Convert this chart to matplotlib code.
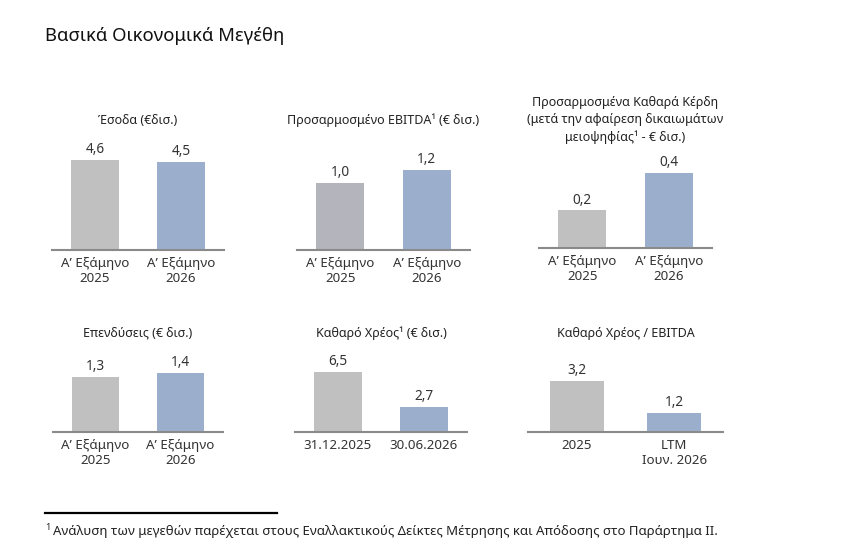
import matplotlib
matplotlib.use("Agg")
import matplotlib.pyplot as plt
from matplotlib.lines import Line2D

plt.rcParams['font.family'] = ['Noto Sans', 'DejaVu Sans']

W, H = 841, 550

main_title = "Βασικά Οικονομικά Μεγέθη"
panel_titles = [
    "Έσοδα (€δισ.)",
    "Προσαρμοσμένο EBITDA¹ (€ δισ.)",
    "Προσαρμοσμένα Καθαρά Κέρδη\n(μετά την αφαίρεση δικαιωμάτων\nμειοψηφίας¹ - € δισ.)",
    "Επενδύσεις (€ δισ.)",
    "Καθαρό Χρέος¹ (€ δισ.)",
    "Καθαρό Χρέος / EBITDA",
]
prev_values = [4.6, 1.0, 0.2, 1.3, 6.5, 3.2]
curr_values = [4.5, 1.2, 0.4, 1.4, 2.7, 1.2]
prev_labels = ["Α’ Εξάμηνο\n2025"] * 4 + ["31.12.2025", "2025"]
curr_labels = ["Α’ Εξάμηνο\n2026"] * 4 + ["30.06.2026", "LTM\nΙουν. 2026"]
footnote = "Ανάλυση των μεγεθών παρέχεται στους Εναλλακτικούς Δείκτες Μέτρησης και Απόδοσης στο Παράρτημα ΙΙ."

# panel layout in pixels: left, right, baseline y, pixels per unit, title y
panels = [
    (52, 224, 250, 19.6, 120),
    (297, 470, 250, 67, 120),
    (539, 712, 248, 188, 120),
    (53, 223, 432, 42.5, 333),
    (295, 467, 432, 9.2, 333),
    (528, 723, 432, 16, 333),
]
prev_colors = ["#c0c0c0", "#b3b4bc", "#c0c0c0", "#c0c0c0", "#c0c0c0", "#c0c0c0"]
blue = "#9bafcd"
ax_h = 115

fig = plt.figure(figsize=(W / 100, H / 100), dpi=100)

fig.text(45 / W, 1 - 36 / H, main_title, fontsize=13.3, color="#111111",
         ha="left", va="center")

for i, (left, right, base, scale, ty) in enumerate(panels):
    ax = fig.add_axes([left / W, 1 - base / H, (right - left) / W, ax_h / H])
    vals = [prev_values[i], curr_values[i]]
    bars = ax.bar([0, 1], vals, width=0.55, color=[prev_colors[i], blue])
    ax.set_xlim(-0.5, 1.5)
    ax.set_ylim(0, ax_h / scale)
    for b, v in zip(bars, vals):
        ax.annotate(f"{v:.1f}".replace(".", ","), (b.get_x() + b.get_width() / 2, v),
                    xytext=(0, 2), textcoords="offset points", ha="center",
                    va="bottom", fontsize=9.8, color="#333333")
    ax.set_xticks([0, 1])
    ax.set_xticklabels([prev_labels[i], curr_labels[i]], fontsize=9.6,
                       color="#333333", linespacing=1.2)
    ax.tick_params(axis="x", length=0, pad=5)
    ax.set_yticks([])
    for s in ["top", "left", "right"]:
        ax.spines[s].set_visible(False)
    ax.spines["bottom"].set_color("#8a8a8a")
    ax.spines["bottom"].set_linewidth(1.5)
    ax.patch.set_visible(False)
    fig.text((left + right) / 2 / W, 1 - ty / H, panel_titles[i], fontsize=9,
             color="#222222", ha="center", va="center", linespacing=1.4)

fig.add_artist(Line2D([45 / W, 277 / W], [1 - 513 / H, 1 - 513 / H],
                      color="black", lw=1.6))
fig.text(45 / W, 1 - 527 / H, "1", fontsize=6.5, color="#222222", ha="left", va="center")
fig.text(53 / W, 1 - 532 / H, footnote, fontsize=9.5, color="#222222",
         ha="left", va="center")

fig.savefig("out.png", dpi=100)
